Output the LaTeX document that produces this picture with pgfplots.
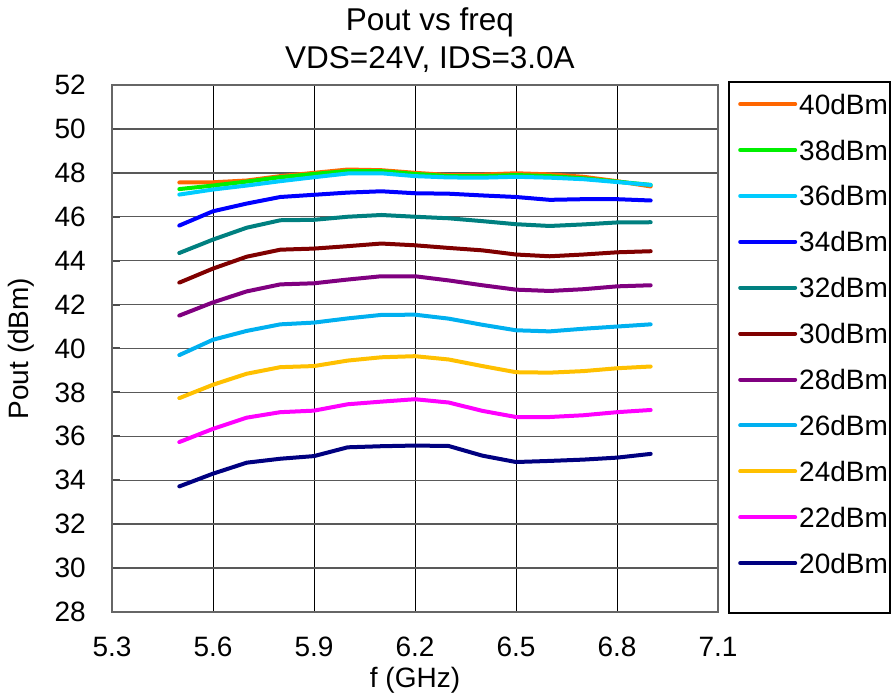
\documentclass[border=0pt]{standalone}
\usepackage{fontspec}
\setmainfont{Liberation Sans}
\usepackage{pgfplots}
\pgfplotsset{compat=1.18}
\usepackage{pgfplotstable}

\definecolor{c40}{RGB}{255,102,0}
\definecolor{c38}{RGB}{0,240,0}
\definecolor{c36}{RGB}{0,204,255}
\definecolor{c34}{RGB}{0,0,255}
\definecolor{c32}{RGB}{0,128,128}
\definecolor{c30}{RGB}{128,0,0}
\definecolor{c28}{RGB}{128,0,128}
\definecolor{c26}{RGB}{0,176,240}
\definecolor{c24}{RGB}{255,192,0}
\definecolor{c22}{RGB}{255,0,255}
\definecolor{c20}{RGB}{0,0,128}

% Pout (dBm) vs frequency, one column per input power
\pgfplotstableread{
f   p40   p38   p36   p34   p32   p30   p28   p26   p24   p22   p20
5.5 47.56 47.26 47.01 45.60 44.35 43.00 41.50 39.70 37.74 35.74 33.72
5.6 47.57 47.42 47.24 46.25 44.96 43.64 42.10 40.40 38.35 36.34 34.30
5.7 47.65 47.60 47.42 46.60 45.50 44.18 42.60 40.80 38.85 36.85 34.80
5.8 47.85 47.80 47.62 46.90 45.84 44.50 42.92 41.10 39.15 37.10 34.98
5.9 48.00 47.95 47.80 47.00 45.86 44.55 42.97 41.18 39.20 37.17 35.10
6.0 48.15 48.08 47.97 47.10 46.00 44.66 43.14 41.37 39.45 37.46 35.50
6.1 48.12 48.08 47.98 47.16 46.08 44.78 43.29 41.53 39.60 37.58 35.55
6.2 48.00 47.95 47.85 47.07 46.00 44.70 43.29 41.54 39.65 37.69 35.58
6.3 47.90 47.85 47.79 47.05 45.93 44.58 43.10 41.36 39.50 37.54 35.56
6.4 47.92 47.85 47.78 46.97 45.80 44.47 42.88 41.08 39.20 37.16 35.12
6.5 47.98 47.90 47.82 46.90 45.66 44.28 42.68 40.83 38.92 36.88 34.83
6.6 47.93 47.85 47.78 46.77 45.58 44.20 42.62 40.78 38.90 36.88 34.88
6.7 47.82 47.75 47.71 46.80 45.65 44.28 42.70 40.90 38.97 36.96 34.94
6.8 47.62 47.60 47.58 46.80 45.74 44.38 42.83 41.00 39.10 37.10 35.03
6.9 47.38 47.45 47.45 46.74 45.75 44.43 42.88 41.10 39.18 37.20 35.20
}\pout

\begin{document}
\begin{tikzpicture}
\path[use as bounding box] (0,0) rectangle (892pt,697pt);
\begin{axis}[
    name=ax,
    at={(112pt,85pt)}, anchor=south west,
    width=606pt, height=527pt, scale only axis,
    xmin=5.3, xmax=7.1, ymin=28, ymax=52,
    xtick={5.3,5.6,5.9,6.2,6.5,6.8,7.1},
    ytick={28,30,...,52},
    xticklabel style={/pgf/number format/fixed, /pgf/number format/precision=1, /pgf/number format/fixed zerofill},
    /pgf/number format/assume math mode=true,
    font=\fontsize{28}{34}\selectfont,
    tick label style={font=\fontsize{28}{34}\selectfont, inner sep=0pt},
    yticklabel style={xshift=-26pt},
    xticklabel style={yshift=-25pt},
    tick align=inside, major tick length=8pt,
    xtick pos=bottom, ytick pos=left,
    xtick style={draw=none},
    ytick style={draw=black!70, line width=2pt},
    axis line style={draw=black!60, line width=1.8pt},
    grid=major,
    x grid style={draw=black, line width=1pt},
    y grid style={draw=black!65, line width=1.4pt},
    title={Pout vs freq\\VDS=24V, IDS=3.0A},
    title style={align=center, font=\fontsize{31.5}{38}\selectfont, inner sep=0pt, yshift=6pt, xshift=15pt},
    xlabel={f (GHz)},
    ylabel={Pout (dBm)},
    xlabel style={at={(axis description cs:0.5,-0.130)}, anchor=center, inner sep=0pt},
    ylabel style={at={(axis description cs:-0.150,0.5)}, anchor=center, inner sep=0pt},
    every axis plot/.append style={line width=4pt, line join=round, line cap=round},
    legend image code/.code={
        \draw[#1, line width=4pt, line cap=round] (0pt,10pt) -- (55pt,10pt);
        \path[draw=none, fill=none] (0pt,0pt) rectangle (59pt,20pt);
    },
    legend style={
        at={(axis description cs:1.033,0.983)}, anchor=north west,
        draw=none, fill=none, inner sep=0pt,
        row sep=25.9pt, column sep=0pt,
        nodes={inner sep=0pt, text height=20pt, text depth=0pt, anchor=base west},
        font=\fontsize{28}{34}\selectfont
    },
]
\addplot[c40] table[x=f, y=p40] {\pout};
\addplot[c38] table[x=f, y=p38] {\pout};
\addplot[c36] table[x=f, y=p36] {\pout};
\addplot[c34] table[x=f, y=p34] {\pout};
\addplot[c32] table[x=f, y=p32] {\pout};
\addplot[c30] table[x=f, y=p30] {\pout};
\addplot[c28] table[x=f, y=p28] {\pout};
\addplot[c26] table[x=f, y=p26] {\pout};
\addplot[c24] table[x=f, y=p24] {\pout};
\addplot[c22] table[x=f, y=p22] {\pout};
\addplot[c20] table[x=f, y=p20] {\pout};
\legend{40dBm,38dBm,36dBm,34dBm,32dBm,30dBm,28dBm,26dBm,24dBm,22dBm,20dBm}
\end{axis}
\draw[line width=1.5pt] ([xshift=11pt,yshift=3pt]ax.north east) rectangle ([xshift=172pt,yshift=-1pt]ax.south east);
\end{tikzpicture}
\end{document}
